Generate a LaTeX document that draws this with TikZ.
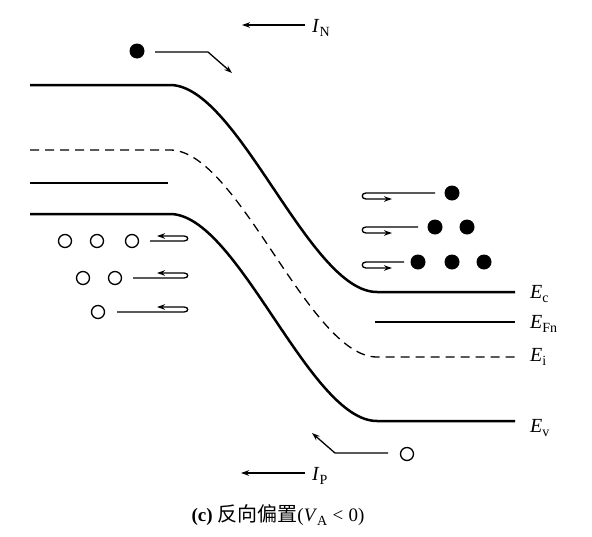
\documentclass[tikz,border=0pt]{standalone}
\usepackage{fontspec}
\setmainfont{Liberation Serif}
\newfontfamily\cjk{Noto Sans CJK SC}
\usetikzlibrary{arrows.meta}
\newcommand\mysub[1]{\raisebox{-0.22em}{\fontsize{14}{14}\selectfont #1}}
\begin{document}
\begin{tikzpicture}[x=1pt,y=-1pt,
  band/.style={line width=2.5pt},
  bandi/.style={line width=1.3pt,dash pattern=on 9pt off 6pt},
  thinline/.style={line width=1.3pt},
  tipend/.style={-{Stealth[length=8pt,width=5.5pt]}},
  elec/.style={circle,fill=black,inner sep=0pt,minimum size=15pt},
  hole/.style={circle,draw=black,line width=1.3pt,inner sep=0pt,minimum size=13pt},
  lbl/.style={font=\fontsize{20}{22}\selectfont,inner sep=0pt,anchor=west}]
\fill[white] (0,0) rectangle (592,536);
\useasboundingbox (0,0) rectangle (592,536);

% bands
\draw[band] (30,85) -- (170,85) .. controls (238,85) and (309,292) .. (377,292) -- (515,292);
\draw[bandi] (30,150) -- (170,150) .. controls (238,150) and (309,357) .. (377,357) -- (515,357);
\draw[band] (30,214) -- (170,214) .. controls (238,214) and (309,421) .. (377,421) -- (515,421);
\draw[band] (30,183) -- (168,183);
\draw[band] (375,322) -- (515,322);

% labels
\node[lbl] (Ec) at (530,294) {\textit{E}\mysub{c}};
\node[lbl] (EFn) at (530,324) {\textit{E}\mysub{Fn}};
\node[lbl] (Ei) at (530,357) {\textit{E}\mysub{i}};
\node[lbl] (Ev) at (530,428) {\textit{E}\mysub{v}};

% currents
\coordinate (inT) at (305,25);
\coordinate (inH) at (242,25);
\draw[thinline,tipend] (inT) -- (inH);
\node[lbl] (IN) at (312,28) {\textit{I}\mysub{N}};
\coordinate (ipT) at (305,473);
\coordinate (ipH) at (241,473);
\draw[thinline,tipend] (ipT) -- (ipH);
\node[lbl] (IP) at (312,476) {\textit{I}\mysub{P}};

% top electron
\node[elec] (et) at (137,51) {};
\coordinate (etA) at (155,52);
\coordinate (etB) at (208,52);
\coordinate (etC) at (232,73);
\draw[thinline,tipend] (etA) -- (etB) -- (etC);

% bottom hole
\node[hole] (hb) at (407,454) {};
\coordinate (hbA) at (388,453);
\coordinate (hbB) at (335,453);
\coordinate (hbC) at (312,433);
\draw[thinline,tipend] (hbA) -- (hbB) -- (hbC);

% right electrons
\node[elec] (e1) at (452,193) {};
\node[elec] (e2) at (435,227) {};
\node[elec] (e3) at (467,227) {};
\node[elec] (e4) at (418,262) {};
\node[elec] (e5) at (452,262) {};
\node[elec] (e6) at (484,262) {};
\draw[thinline,tipend] (435,193) -- (366,193) .. controls (361,193) and (361,199) .. (366,199) -- (392,199);
\draw[thinline,tipend] (418,227) -- (366,227) .. controls (361,227) and (361,233) .. (366,233) -- (392,233);
\draw[thinline,tipend] (404,262) -- (366,262) .. controls (361,262) and (361,268) .. (366,268) -- (392,268);

% left holes
\node[hole] (h1) at (65,241) {};
\node[hole] (h2) at (97,241) {};
\node[hole] (h3) at (132,241) {};
\node[hole] (h4) at (83,278) {};
\node[hole] (h5) at (115,278) {};
\node[hole] (h6) at (98,312) {};
\draw[thinline,tipend] (150,241) -- (184,241) .. controls (189,241) and (189,236) .. (184,236) -- (157,236);
\draw[thinline,tipend] (133,278) -- (184,278) .. controls (189,278) and (189,273) .. (184,273) -- (157,273);
\draw[thinline,tipend] (117,312) -- (184,312) .. controls (189,312) and (189,307) .. (184,307) -- (157,307);

% caption
\node[font=\fontsize{19}{21}\selectfont,inner sep=0pt] (cap) at (278,515)
  {\textbf{(c)} {\cjk\fontsize{20}{21}\selectfont 反向偏置}(\textit{V}\mysub{A}\;<\;0)};
\end{tikzpicture}
\end{document}
